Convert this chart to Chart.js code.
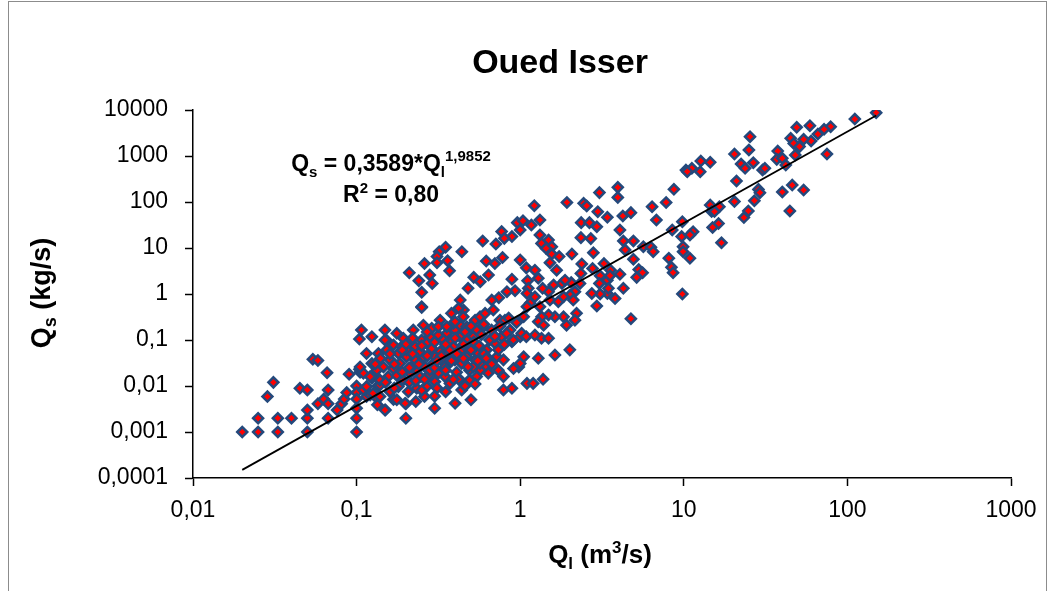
<!DOCTYPE html>
<html>
<head>
<meta charset="utf-8">
<script src="https://cdn.jsdelivr.net/npm/chart.js@4.4.1/dist/chart.umd.min.js"></script>
<style>
  html, body { margin: 0; padding: 0; background: #fff; }
  #wrap { position: relative; width: 1054px; height: 591px; overflow: hidden; }
  #frame { position: absolute; left: 8px; top: 1px; width: 1037px; height: 640px; border: 1px solid #8c8c8c; }
  canvas { position: absolute; left: 0; top: 0; }
</style>
</head>
<body>
<div id="wrap">
  <div id="frame"></div>
  <canvas id="chart" width="1054" height="591"></canvas>
</div>
<script>
const FONT = '"Liberation Sans", Arial, sans-serif';

const lowFlow = [ // Ql < 0.12
  [0.02,0.001],[0.025,0.001],[0.033,0.001],[0.05,0.001],[0.1,0.001],
  [0.025,0.002],[0.033,0.002],[0.04,0.002],[0.05,0.002],[0.067,0.002],[0.1,0.002],
  [0.0285,0.0059],[0.031,0.012],[0.045,0.0089],[0.05,0.0082],[0.05,0.003],
  [0.054,0.038],[0.058,0.036],[0.066,0.0195],[0.067,0.0082],[0.058,0.0041],[0.063,0.0052],[0.067,0.0041],
  [0.076,0.003],[0.081,0.0041],[0.084,0.0052],[0.087,0.0072],[0.09,0.018],
  [0.1,0.01],[0.1,0.0072],[0.1,0.0052],[0.1,0.0033],
  [0.105,0.02],[0.104,0.105],[0.107,0.165],[0.104,0.023],[0.11,0.0082],
  [0.115,0.0097],[0.115,0.0059],[0.11,0.019],[0.105,0.026],[0.115,0.051]
];

const coreFlow = [ // 0.12 <= Ql < 1
  [0.25,0.53],[0.153,0.097],[0.2,0.002],[0.2,0.0041],[0.15,0.003],[0.134,0.0039],[0.121,0.0064],
  [0.124,0.0147],[0.168,0.0051],[0.135,0.01],
  [0.96,35.6],[0.77,22.7],[0.89,17.7],[0.8,16.2],[0.71,12.2],[0.59,14.2],
  [0.35,10.4],[0.32,8.3],[0.31,6.5],[0.31,4.8],[0.36,5.3],[0.37,3.2],[0.26,4.6],[0.28,2.6],
  [0.29,1.7],[0.21,2.9],[0.24,1.95],[0.25,1.09],[0.25,0.51],[0.44,8.3],[0.62,5.2],[0.7,4.6],
  [0.78,6.2],[0.64,2.6],[0.52,2.3],[0.57,1.85],[0.48,1.33],[0.89,2.1],[0.93,1.18],[0.83,1.12],
  [0.74,0.83],[0.67,0.74],[0.43,0.74],[0.45,0.45],[0.42,0.49],[0.38,0.38],
  [0.98,0.026],[0.91,0.024],[0.79,0.016],[0.79,0.0082],[0.89,0.0089],[0.89,0.092],[0.77,0.118],
  [0.7,0.085],[0.72,0.043],[0.65,0.037],[0.79,0.037],[0.61,0.026],[0.53,0.037],[0.57,0.022],
  [0.49,0.022],[0.49,0.0135],[0.43,0.0135],[0.5,0.005],[0.4,0.0042],[0.35,0.0075],[0.3,0.0033],
  [0.26,0.0059],[0.23,0.0046],[0.198,0.0042],[0.176,0.005],[0.149,0.003],[0.13,0.0059],
  [0.139,0.0105],[0.126,0.016],
  [0.149,0.1],[0.168,0.078],[0.193,0.109],[0.212,0.092],[0.228,0.072],[0.25,0.1],[0.281,0.118],
  [0.316,0.128],[0.356,0.14],[0.399,0.165],[0.429,0.21],[0.471,0.195],[0.53,0.27],[0.568,0.32],
  [0.61,0.38],[0.685,0.45],[0.752,0.27],[0.807,0.27],[0.867,0.165],[0.951,0.24],[0.826,0.14],
  [0.908,0.1],[0.735,0.061],[0.624,0.061],[0.555,0.051],[0.493,0.072],[0.439,0.061],[0.39,0.072],
  [0.356,0.051],[0.324,0.056],[0.288,0.066],[0.256,0.043],[0.228,0.037],[0.202,0.043],[0.18,0.051],
  [0.16,0.037],[0.146,0.026],[0.133,0.022],[0.121,0.016],[0.139,0.0135],[0.156,0.016],[0.176,0.017],
  [0.193,0.0135],[0.212,0.019],[0.233,0.022],[0.262,0.026],[0.294,0.031],[0.331,0.037],[0.364,0.031],
  [0.399,0.037],[0.439,0.031],[0.471,0.043],[0.516,0.118],[0.596,0.195],[0.668,0.165],[0.347,0.016],
  [0.301,0.0124],[0.268,0.0097],[0.233,0.0089],[0.207,0.0075],[0.18,0.0097],[0.16,0.0075],
  [0.139,0.0059],[0.316,0.019],[0.372,0.0114],[0.439,0.0082],[0.542,0.016],[0.638,0.019],
  [0.735,0.022],[0.324,0.27],[0.288,0.18],[0.256,0.21],[0.222,0.165],[0.316,0.195],[0.372,0.1],
  [0.429,0.118],[0.168,0.024],[0.184,0.031],[0.217,0.026],[0.244,0.016],[0.275,0.017],[0.409,0.02],
  [0.516,0.026],[0.244,0.056],[0.126,0.0069],
  [0.136,0.051],[0.189,0.072],[0.268,0.085],[0.301,0.043],[0.471,0.1],[0.449,0.32],[0.39,0.23],
  [0.356,0.195],[0.542,0.165],[0.568,0.031],[0.347,0.026],[0.202,0.061],[0.153,0.061],[0.124,0.031],
  [0.176,0.14],[0.149,0.165],[0.124,0.118],
  [0.14,0.04],[0.15,0.012],[0.17,0.03],[0.17,0.009],[0.19,0.02],[0.2,0.08],[0.21,0.012],[0.22,0.05],
  [0.23,0.013],[0.24,0.03],[0.25,0.075],[0.26,0.014],[0.27,0.045],[0.28,0.022],[0.3,0.09],[0.3,0.025],
  [0.31,0.009],[0.33,0.045],[0.34,0.1],[0.35,0.022],[0.37,0.06],[0.38,0.035],[0.4,0.11],[0.41,0.05],
  [0.42,0.014],[0.45,0.04],[0.46,0.15],[0.48,0.026],[0.5,0.06],[0.52,0.09],[0.55,0.035],[0.58,0.13],
  [0.6,0.05],[0.65,0.1],[0.7,0.12],[0.75,0.2],[0.8,0.08],[0.85,0.3],[0.6,0.22],[0.5,0.2],[0.4,0.25],
  [0.45,0.08],[0.35,0.08],[0.27,0.15],[0.22,0.11],[0.19,0.06],[0.16,0.05],[0.13,0.03],[0.31,0.035],
  [0.39,0.014],[0.46,0.01],[0.53,0.011],[0.62,0.04],[0.67,0.03],[0.56,0.075],[0.3,0.006],[0.25,0.008],
  [0.21,0.025]
];

const midFlow = [ // 1 <= Ql < 10
  [1.04,39],[1.17,31.6],[1.32,40.6],[1.32,19.2],[1.49,14.9],[1.56,10.7],[1.35,12.6],[1.0,5.5],
  [1.09,3.7],[1.29,2.2],[1.11,1.95],[1.12,1.33],[1.0,0.118],[1.02,0.14],[1.09,0.118],[1.1,0.0114],
  [1.2,0.0114],[1.38,0.014],
  [3.95,208],[3.95,126],[3.05,160],[8.7,189],[7.8,98],[6.4,79],[6.8,40.6],[1.93,98],[2.44,93.5],
  [2.55,82],[1.22,83],[2.98,61.7],[3.41,46.5],[4.24,49.6],[4.75,58.7],[2.36,35.6],[2.65,35.6],
  [2.94,29.1],[2.35,16.8],[2.7,16],[4.07,24.7],[9.8,37.4],[9.7,17.7],[8.5,24.7],
  [1.44,9.8],[1.56,7.4],[1.73,6.5],[1.52,4.8],[1.67,3.3],[2.07,7.4],[2.8,7.9],[4.27,14.2],[4.92,14.2],
  [4.38,9.1],[4.92,5.7],[5.66,10.7],[6.3,10.4],[6.5,8.3],[8.1,6.0],[9.9,10.7],[9.9,8.3],[8.4,3.8],
  [8.6,2.9],[9.8,1.0],[5.3,3.4],[5.6,2.9],[5.15,2.3],[4.07,2.7],[3.57,3.3],[3.41,2.0],[3.54,2.5],
  [3.08,2.5],[3.25,4.6],[2.77,3.6],[2.38,4.5],[2.35,2.8],[4.27,1.33],[3.8,0.8],[3.41,1.03],[3.08,1.0],
  [2.74,1.03],[3.46,1.33],[3.05,1.7],[2.94,0.55],[4.75,0.29],[2.32,1.7],[2.05,1.77],[2.16,1.12],
  [2.02,0.95],[1.8,1.7],[1.88,2.0],[1.6,1.57],[1.49,1.12],[1.37,1.33],[1.23,0.87],[1.1,1.03],
  [1.15,0.63],[1.32,0.53],[1.52,0.74],[1.71,0.68],[1.84,0.87],[2.11,0.74],[2.21,0.38],[2.16,0.27],
  [1.92,0.21],[1.84,0.32],[1.63,0.32],[1.49,0.35],[1.35,0.32],[1.29,0.25],[1.39,0.21],[1.23,0.128],
  [1.35,0.109],[1.49,0.109],[1.63,0.047],[2.01,0.061],[1.29,0.04],[1.05,0.043],[1.0,0.031],
  [1.1,0.53],[1.05,0.32],[1.23,3.3],[1.0,24.7]
];

const highFlow = [ // Ql >= 10
  [11.4,22.6],[10.9,19.2],[10.9,6.0],
  [150,8750],[111,6370],[79,4340],[72,3800],[66,3000],[59,4560],[49,4200],[60,2120],[54,2300],
  [45,2420],[47,1880],[51,1600],[48,1050],[75,1100],[37.5,1280],[37,845],[40,890],[42,637],
  [25.4,2630],[25,1350],[20.4,1100],[22.4,670],[23.7,540],[26.6,716],[30.3,495],[31.3,540],
  [12.7,778],[14.5,728],[10.3,495],[11.2,540],[12.6,456],[10.5,456],[21,286],[28.6,188],[29.2,159],
  [40,165],[46,234],[54,182],[44.5,64],[27,107],[20.4,102],[24.8,64],[23.3,46],[14.5,86],[14.8,62],
  [16.5,79],[15.4,62],[16.3,34],[15,28],[17,13]
];

// Power-law trend line end points as drawn (Qs = 0.3589 * Ql^1.9852)
const trendQl = [0.02, 150];
const trendQs = [0.00015, 7600];

const qlTicks = [0.01, 0.1, 1, 10, 100, 1000];
const qlTickLabels = ['0,01', '0,1', '1', '10', '100', '1000'];
const qsTicks = [0.0001, 0.001, 0.01, 0.1, 1, 10, 100, 1000, 10000];
const qsTickLabels = ['0,0001', '0,001', '0,01', '0,1', '1', '10', '100', '1000', '10000'];

const chartTitle = 'Oued Isser';

// Draw a centred line of bold text made of runs with their own size and vertical shift (sub/superscripts)
function drawRich(ctx, segs, x, y) {
  let w = 0;
  segs.forEach(sg => { ctx.font = `bold ${sg.size}px ${FONT}`; w += ctx.measureText(sg.text).width; });
  let cx = x - w / 2;
  segs.forEach(sg => {
    ctx.font = `bold ${sg.size}px ${FONT}`;
    ctx.fillText(sg.text, cx, y + (sg.dy || 0));
    cx += ctx.measureText(sg.text).width;
  });
}

const textPlugin = {
  id: 'textPlugin',
  afterDraw(chart) {
    const ctx = chart.ctx;
    ctx.save();
    ctx.fillStyle = '#000';
    ctx.textBaseline = 'alphabetic';

    // chart title
    ctx.font = `bold 34px ${FONT}`;
    ctx.textAlign = 'center';
    ctx.fillText(chartTitle, 560, 73);
    ctx.textAlign = 'left';

    // regression equation
    drawRich(ctx, [
      { text: 'Q', size: 23 }, { text: 's', size: 15, dy: 6 },
      { text: ' = 0,3589*Q', size: 23 }, { text: 'l', size: 15, dy: 6 },
      { text: '1,9852', size: 15, dy: -10 }
    ], 391, 171);
    drawRich(ctx, [
      { text: 'R', size: 23 }, { text: '2', size: 15, dy: -9 }, { text: ' = 0,80', size: 23 }
    ], 391, 202);

    // x axis title
    drawRich(ctx, [
      { text: 'Q', size: 26 }, { text: 'l', size: 17, dy: 6 }, { text: ' (m', size: 26 },
      { text: '3', size: 17, dy: -10 }, { text: '/s)', size: 26 }
    ], 600, 563);

    // y axis title
    ctx.translate(50, 293);
    ctx.rotate(-Math.PI / 2);
    drawRich(ctx, [
      { text: 'Q', size: 27 }, { text: 's', size: 18, dy: 6 }, { text: ' (kg/s)', size: 27 }
    ], 0, 0);
    ctx.restore();
  }
};

const toPoints = arr => arr.map(p => ({ x: p[0], y: p[1] }));
const observations = toPoints([].concat(lowFlow, coreFlow, midFlow, highFlow));
const trendPoints = trendQl.map((q, i) => ({ x: q, y: trendQs[i] }));

const axisGrid = { drawOnChartArea: false, drawTicks: true, tickLength: 8, tickColor: '#000', tickWidth: 1.5 };
const tickFont = { family: FONT, size: 23 };

new Chart(document.getElementById('chart').getContext('2d'), {
  type: 'scatter',
  data: {
    datasets: [{
      type: 'line',
      label: 'Trend',
      data: trendPoints,
      borderColor: '#000',
      borderWidth: 1.8,
      pointRadius: 0,
      fill: false,
      order: 0
    }, {
      label: 'Qs',
      data: observations,
      pointStyle: 'rectRot',
      pointRadius: 5,
      pointBorderWidth: 2.5,
      pointBackgroundColor: '#ff0000',
      pointBorderColor: '#24497c',
      backgroundColor: '#ff0000',
      borderColor: '#24497c',
      order: 1
    }]
  },
  options: {
    responsive: false,
    animation: false,
    layout: { padding: { left: 0, top: 110, right: 43, bottom: 0 } },
    plugins: { legend: { display: false }, tooltip: { enabled: false }, title: { display: false } },
    scales: {
      x: {
        type: 'logarithmic',
        position: 'bottom',
        min: 0.01,
        max: 1000,
        afterBuildTicks: s => { s.ticks = qlTicks.map(v => ({ value: v })); },
        afterFit: s => { s.height = 113; },
        ticks: { callback: (v, i) => qlTickLabels[i], font: tickFont, color: '#000', padding: 11, maxRotation: 0, autoSkip: false },
        grid: axisGrid,
        border: { display: true, color: '#000', width: 1.5 }
      },
      y: {
        type: 'logarithmic',
        position: 'left',
        min: 0.0001,
        max: 10000,
        afterBuildTicks: s => { s.ticks = qsTicks.map(v => ({ value: v })); },
        afterFit: s => { s.width = 193; },
        ticks: { callback: (v, i) => qsTickLabels[i], font: tickFont, color: '#000', padding: 17, autoSkip: false },
        grid: axisGrid,
        border: { display: true, color: '#000', width: 1.5 }
      }
    }
  },
  plugins: [textPlugin]
});
</script>
</body>
</html>
